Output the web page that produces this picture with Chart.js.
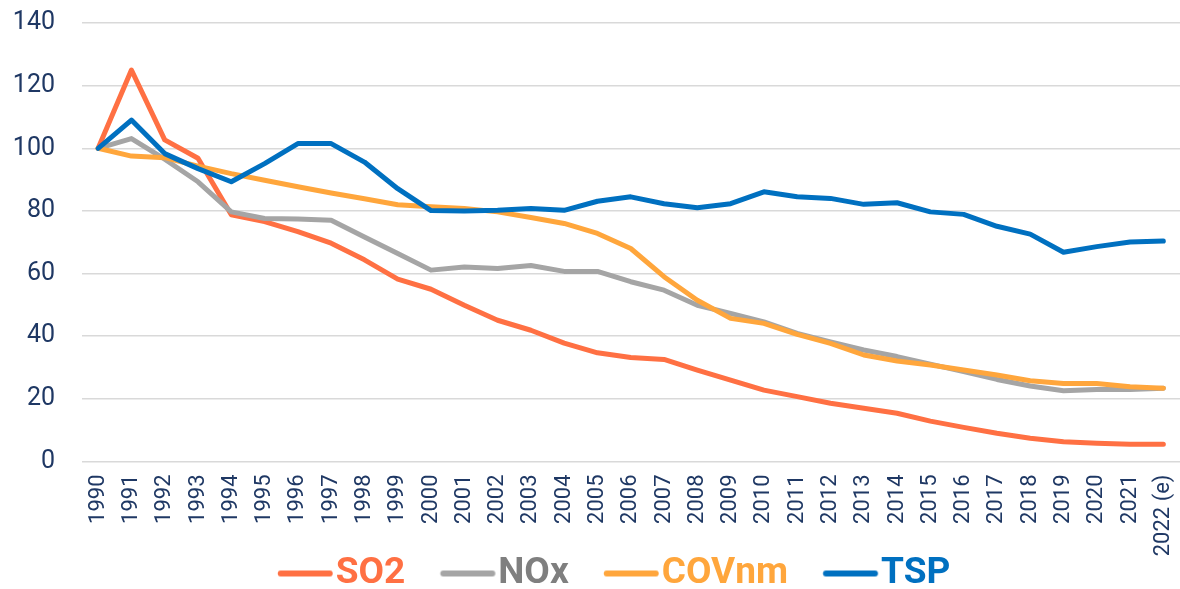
<!DOCTYPE html>
<html>
<head>
<meta charset="utf-8">
<script src="https://cdn.jsdelivr.net/npm/chart.js@4.4.1/dist/chart.umd.min.js"></script>
<style>
  html, body { margin: 0; padding: 0; background: #ffffff; }
  #c { display: block; }
</style>
</head>
<body>
<canvas id="c" width="1180" height="589"></canvas>
<script>
const years = ['1990','1991','1992','1993','1994','1995','1996','1997','1998','1999',
  '2000','2001','2002','2003','2004','2005','2006','2007','2008','2009',
  '2010','2011','2012','2013','2014','2015','2016','2017','2018','2019',
  '2020','2021','2022 (e)'];

const so2 = [100,125,102.7,96.8,78.8,76.6,73.4,69.7,64.4,58.2,
  55,49.9,45.1,41.9,37.8,34.7,33.2,32.6,29.2,26,
  22.8,20.7,18.6,17,15.4,12.9,10.9,9,7.4,6.3,
  5.8,5.5,5.5];
const nox = [100,103.1,96.5,89.3,79.7,77.6,77.4,77,71.7,66.4,
  61.1,62.1,61.6,62.6,60.7,60.7,57.4,54.7,49.9,47.3,
  44.6,40.9,38.2,35.6,33.5,31.1,28.7,26.2,24.1,22.6,
  23,23,23.4];
const covnm = [100,97.5,97,94.3,91.9,89.8,87.7,85.7,83.9,82,
  81.3,80.8,79.7,77.9,76,72.8,68,59,51.5,45.7,
  44.1,40.6,37.7,34,32.1,30.8,29.2,27.6,25.8,24.9,
  24.9,23.9,23.4];
const tsp = [100,109,98.3,93.5,89.3,95.1,101.5,101.5,95.6,87.1,
  80.1,80,80.2,80.8,80.2,83.1,84.5,82.3,81,82.3,
  86.1,84.5,84,82.1,82.6,79.7,78.9,75.1,72.6,66.8,
  68.6,70.1,70.4];

const seriesNames = ['SO2','NOx','COVnm','TSP'];
const yTicks = [0,20,40,60,80,100,120,140];

const lineColors = ['#FF7043','#A5A5A5','#FFA63C','#0070C0'];
const textColors = ['#FF7043','#7F7F7F','#FFA63C','#0070C0'];
const navy = '#1F3864';

// legend geometry
const LEG_FONT = 37;
const LEG_PAD = -1;        // Chart.js legend padding
const LEG_SHIFT = 36;      // visible sample starts this far after item start
const LEG_LINE = 55;       // visible sample length
const LEG_GAP = 3;         // gap between sample and text
const LEG_BOX = LEG_LINE + LEG_GAP + LEG_SHIFT - LEG_FONT / 2;

function legendSample(color) {
  const cv = document.createElement('canvas');
  const half = LEG_BOX / 2;
  const start = LEG_SHIFT - half;
  const end = LEG_BOX + LEG_FONT / 2 - LEG_GAP - half;
  const W = Math.ceil(2 * Math.max(Math.abs(start), Math.abs(end)) + 4);
  cv.width = W; cv.height = 10;
  const c = W / 2;
  const g = cv.getContext('2d');
  g.strokeStyle = color;
  g.lineWidth = 6;
  g.lineCap = 'round';
  g.beginPath();
  g.moveTo(c + start + 3, 5);
  g.lineTo(c + end - 3, 5);
  g.stroke();
  return cv;
}
const samples = lineColors.map(legendSample);

const seriesData = [so2, nox, covnm, tsp];
const datasets = seriesData.map((d, i) => ({
  label: seriesNames[i],
  data: d,
  borderColor: lineColors[i],
  backgroundColor: lineColors[i],
  borderWidth: 5,
  pointRadius: 0,
  pointHoverRadius: 0,
  tension: 0,
  fill: false,
  borderJoinStyle: 'round',
  borderCapStyle: 'round',
  order: 3 - i
}));

new Chart(document.getElementById('c'), {
  type: 'line',
  data: { labels: years, datasets: datasets },
  options: {
    responsive: false,
    animation: false,
    events: [],
    layout: { padding: { top: 23, left: 12, right: 0, bottom: 0 } },
    plugins: {
      tooltip: { enabled: false },
      legend: {
        position: 'bottom',
        align: 'center',
        maxHeight: 33,
        labels: {
          usePointStyle: true,
          pointStyleWidth: LEG_BOX,
          padding: LEG_PAD,
          font: { family: 'Roboto', size: LEG_FONT, weight: 'bold' },
          generateLabels: (chart) => chart.data.datasets.map((ds, i) => ({
            text: ds.label,
            fillStyle: lineColors[i],
            strokeStyle: lineColors[i],
            lineWidth: 0,
            pointStyle: samples[i],
            fontColor: textColors[i],
            hidden: false,
            datasetIndex: i
          }))
        }
      }
    },
    scales: {
      x: {
        offset: true,
        grid: { display: false, drawTicks: false },
        border: { display: false },
        ticks: {
          autoSkip: false,
          maxRotation: 90,
          minRotation: 90,
          padding: 13,
          color: navy,
          font: { family: 'Roboto', size: 22 }
        },
        afterFit: (s) => { s.height = 94.5; s.paddingLeft = 0; s.paddingRight = 0; }
      },
      y: {
        min: 0,
        max: 140,
        afterBuildTicks: (s) => { s.ticks = yTicks.map(v => ({ value: v })); },
        grid: { color: '#D9D9D9', lineWidth: 1.5, drawTicks: false },
        border: { display: false },
        ticks: {
          padding: 26.5,
          color: navy,
          font: { family: 'Roboto', size: 25 }
        },
        afterFit: (s) => { s.width = 69.5; s.paddingTop = 0; s.paddingBottom = 0; }
      }
    }
  }
});
</script>
</body>
</html>
